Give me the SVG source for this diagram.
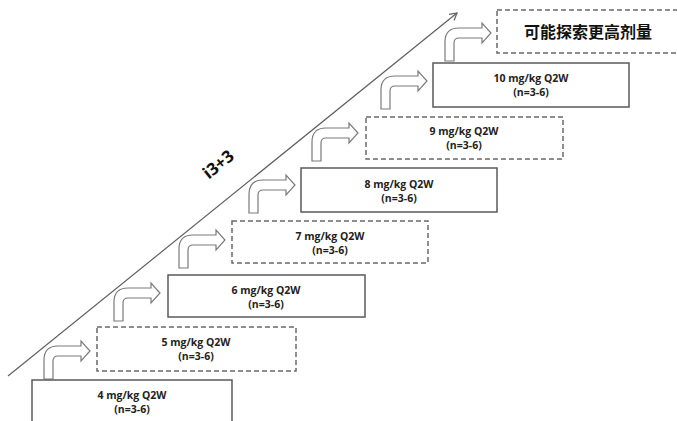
<svg xmlns="http://www.w3.org/2000/svg" width="677" height="421" viewBox="0 0 677 421">
<style>
.bg{fill:#ffffff}
.solid{fill:#ffffff;stroke:#5a5a5a;stroke-width:1.5}
.dash{fill:#ffffff;stroke:#6a6a6a;stroke-width:1.5;stroke-dasharray:5 3}
.lbl{font-family:"Open Sans","Liberation Sans",sans-serif;font-weight:bold;font-size:10.5px;fill:#222;text-anchor:middle}
.cn{font-family:"Noto Sans CJK SC","Noto Sans",sans-serif;font-weight:bold;font-size:16px;fill:#111;text-anchor:middle}
.step{fill:#ffffff;stroke:#7a7a7a;stroke-width:1.2;stroke-linejoin:miter}
.diag{fill:none;stroke:#606060;stroke-width:1.2}
</style>
<defs>
<path id="bend" d="M-46,28 L-46,9 Q-46,-5 -32,-5 L-9,-5 L-9,-10 L0,0 L-9,10 L-9,5 L-32,5 Q-37,5 -37,10 L-37,28 Z"/>
<marker id="tip" markerWidth="10" markerHeight="10" refX="8" refY="5" orient="auto" markerUnits="userSpaceOnUse">
<path d="M1,1 L8,5 L1,9" fill="none" stroke="#606060" stroke-width="1.2"/>
</marker>
</defs>
<rect class="bg" x="0" y="0" width="677" height="421"/>
<g id="connectors">
<line class="diag" x1="8" y1="376" x2="457" y2="13" marker-end="url(#tip)"/>
<use href="#bend" class="step" transform="translate(90,351)"/>
<use href="#bend" class="step" transform="translate(160,293)"/>
<use href="#bend" class="step" transform="translate(225,240)"/>
<use href="#bend" class="step" transform="translate(295,185)"/>
<use href="#bend" class="step" transform="translate(358,133)"/>
<use href="#bend" class="step" transform="translate(427,81)"/>
<use href="#bend" class="step" transform="translate(491,33)"/>
</g>
<text font-family="'Open Sans','Liberation Sans',sans-serif" font-weight="bold" font-size="17" fill="#111" text-anchor="middle" transform="translate(222,169) rotate(-39)">i3+3</text>
<g id="dose4">
<rect class="solid" x="32" y="380" width="200" height="46"/>
<text class="lbl" x="132" y="399">4 mg/kg Q2W</text>
<text class="lbl" x="132" y="413">(n=3-6)</text>
</g>
<g id="dose5">
<rect class="dash" x="97" y="327" width="199" height="44"/>
<text class="lbl" x="196" y="346">5 mg/kg Q2W</text>
<text class="lbl" x="196" y="360">(n=3-6)</text>
</g>
<g id="dose6">
<rect class="solid" x="168" y="275" width="197" height="42"/>
<text class="lbl" x="266" y="294">6 mg/kg Q2W</text>
<text class="lbl" x="266" y="308">(n=3-6)</text>
</g>
<g id="dose7">
<rect class="dash" x="232" y="221" width="196" height="42"/>
<text class="lbl" x="330" y="240">7 mg/kg Q2W</text>
<text class="lbl" x="330" y="254">(n=3-6)</text>
</g>
<g id="dose8">
<rect class="solid" x="301" y="168" width="196" height="44"/>
<text class="lbl" x="399" y="188">8 mg/kg Q2W</text>
<text class="lbl" x="399" y="202">(n=3-6)</text>
</g>
<g id="dose9">
<rect class="dash" x="366" y="117" width="197" height="42"/>
<text class="lbl" x="464" y="135">9 mg/kg Q2W</text>
<text class="lbl" x="464" y="149">(n=3-6)</text>
</g>
<g id="dose10">
<rect class="solid" x="433" y="63" width="196" height="44"/>
<text class="lbl" x="531" y="82">10 mg/kg Q2W</text>
<text class="lbl" x="531" y="96">(n=3-6)</text>
</g>
<g id="higher">
<rect class="dash" x="497" y="10" width="200" height="43"/>
<text class="cn" x="588" y="38">可能探索更高剂量</text>
</g>
</svg>
